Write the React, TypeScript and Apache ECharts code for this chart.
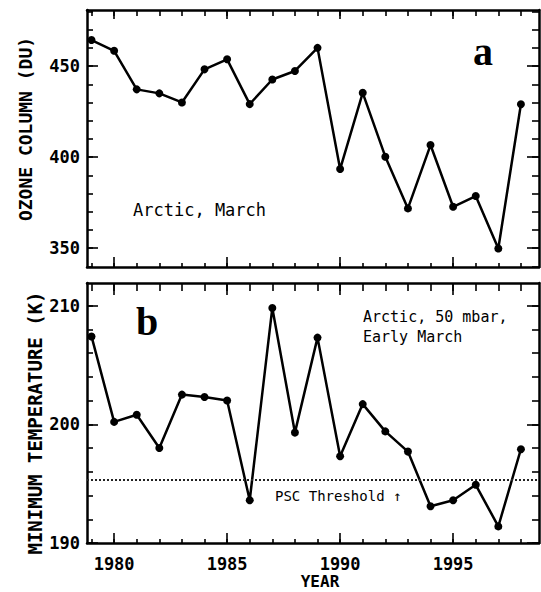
import React, { useEffect, useRef } from "react";
import * as echarts from "echarts";

const years = [1979, 1980, 1981, 1982, 1983, 1984, 1985, 1986, 1987, 1988, 1989, 1990, 1991, 1992, 1993, 1994, 1995, 1996, 1997, 1998];
const ozone = [464.3, 458.4, 437.2, 435.0, 430.0, 448.2, 453.7, 429.1, 442.6, 447.3, 460.0, 393.4, 435.3, 400.2, 371.8, 406.6, 372.7, 378.6, 349.8, 429.0];
const temperature = [207.4, 200.2, 200.8, 198.0, 202.5, 202.3, 202.0, 193.6, 209.8, 199.3, 207.3, 197.3, 201.7, 199.4, 197.7, 193.1, 193.6, 194.9, 191.4, 197.9];
const pscThreshold = 195.3;

const yearTicks = [1980, 1985, 1990, 1995];
const yearMinorTicks = [1979, 1980, 1981, 1982, 1983, 1984, 1985, 1986, 1987, 1988, 1989, 1990, 1991, 1992, 1993, 1994, 1995, 1996, 1997, 1998];
const ozoneTicks = [350, 400, 450];
const ozoneMinorTicks = [340, 350, 360, 370, 380, 390, 400, 410, 420, 430, 440, 450, 460, 470, 480];
const tempTicks = [190, 200, 210];
const tempMinorTicks = [190, 192, 194, 196, 198, 200, 202, 204, 206, 208, 210, 212];

const MONO = "'DejaVu Sans Mono', monospace";

function makeX(grid: number, position: string, ticks: number[], len: number, labels: boolean, line: boolean) {
  return {
    type: "value",
    gridIndex: grid,
    position,
    min: 1978.8,
    max: 1998.8,
    axisLine: { show: line, onZero: false, lineStyle: { color: "#000", width: 2.5 } },
    axisTick: { show: true, inside: true, length: len, customValues: ticks, lineStyle: { color: "#000", width: 1.6 } },
    axisLabel: labels
      ? {
          show: true,
          customValues: ticks,
          margin: 12,
          color: "#000",
          fontFamily: MONO,
          fontSize: 17,
          fontWeight: "bold",
          formatter: (v: number) => String(v),
        }
      : { show: false },
    splitLine: { show: false },
  };
}

function makeY(grid: number, position: string, min: number, max: number, ticks: number[], len: number, labels: boolean, line: boolean) {
  return {
    type: "value",
    gridIndex: grid,
    position,
    min,
    max,
    axisLine: { show: line, onZero: false, lineStyle: { color: "#000", width: 2.5 } },
    axisTick: { show: true, inside: true, length: len, customValues: ticks, lineStyle: { color: "#000", width: 1.6 } },
    axisLabel: labels
      ? {
          show: true,
          customValues: ticks,
          margin: 7,
          color: "#000",
          fontFamily: MONO,
          fontSize: 17,
          fontWeight: "bold",
          formatter: (v: number) => String(v),
        }
      : { show: false },
    splitLine: { show: false },
  };
}

export default function App() {
  const ref = useRef<HTMLDivElement>(null);
  useEffect(() => {
    if (!ref.current) return;
    const chart = echarts.init(ref.current, null, { renderer: "svg" });
    const xAxis = [
      makeX(0, "bottom", yearTicks, 10, false, true),
      makeX(0, "bottom", yearMinorTicks, 4, false, false),
      makeX(0, "top", yearTicks, 9, false, true),
      makeX(0, "top", yearMinorTicks, 6, false, false),
      makeX(1, "bottom", yearTicks, 10, true, true),
      makeX(1, "bottom", yearMinorTicks, 4, false, false),
      makeX(1, "top", yearTicks, 12, false, true),
      makeX(1, "top", yearMinorTicks, 8, false, false),
    ];
    const yAxis = [
      makeY(0, "left", 339.6, 480.8, ozoneTicks, 11, true, true),
      makeY(0, "left", 339.6, 480.8, ozoneMinorTicks, 6, false, false),
      makeY(0, "right", 339.6, 480.8, ozoneTicks, 12, false, true),
      makeY(0, "right", 339.6, 480.8, ozoneMinorTicks, 7, false, false),
      makeY(1, "left", 190, 211.9, tempTicks, 11, true, true),
      makeY(1, "left", 190, 211.9, tempMinorTicks, 6, false, false),
      makeY(1, "right", 190, 211.9, tempTicks, 12, false, true),
      makeY(1, "right", 190, 211.9, tempMinorTicks, 7, false, false),
    ];
    chart.setOption({
      animation: false,
      backgroundColor: "#fff",
      grid: [
        { left: 87, top: 10, right: 2, height: 257 },
        { left: 87, top: 283, right: 2, height: 260 },
      ],
      xAxis,
      yAxis,
      series: [
        {
          type: "line",
          name: "Ozone column",
          xAxisIndex: 0,
          yAxisIndex: 0,
          data: years.map((y, i) => [y, ozone[i]]),
          symbol: "circle",
          symbolSize: 8,
          itemStyle: { color: "#000" },
          lineStyle: { color: "#000", width: 2.5 },
        },
        {
          type: "line",
          name: "Minimum temperature",
          xAxisIndex: 4,
          yAxisIndex: 4,
          data: years.map((y, i) => [y, temperature[i]]),
          symbol: "circle",
          symbolSize: 8,
          itemStyle: { color: "#000" },
          lineStyle: { color: "#000", width: 2.5 },
          markLine: {
            silent: true,
            symbol: ["none", "none"],
            label: { show: false },
            lineStyle: { color: "#222", type: "dotted", width: 2 },
            data: [{ yAxis: pscThreshold }],
          },
        },
      ],
      graphic: [
        {
          type: "text",
          x: 25,
          y: 129,
          rotation: Math.PI / 2,
          style: { text: "OZONE COLUMN (DU)", fill: "#000", font: `bold 18px ${MONO}`, align: "center", verticalAlign: "middle" },
        },
        {
          type: "text",
          x: 35,
          y: 423,
          rotation: Math.PI / 2,
          style: { text: "MINIMUM TEMPERATURE (K)", fill: "#000", font: `bold 19px ${MONO}`, align: "center", verticalAlign: "middle" },
        },
        {
          type: "text",
          x: 320,
          y: 581,
          style: { text: "YEAR", fill: "#000", font: `bold 16px ${MONO}`, align: "center", verticalAlign: "middle" },
        },
        {
          type: "text",
          x: 483,
          y: 51,
          style: { text: "a", fill: "#000", font: "bold 40px 'Liberation Serif', serif", align: "center", verticalAlign: "middle" },
        },
        {
          type: "text",
          x: 147,
          y: 321,
          style: { text: "b", fill: "#000", font: "bold 40px 'Liberation Serif', serif", align: "center", verticalAlign: "middle" },
        },
        {
          type: "text",
          x: 133,
          y: 210,
          style: { text: "Arctic, March", fill: "#000", font: `17px ${MONO}`, align: "left", verticalAlign: "middle" },
        },
        {
          type: "text",
          x: 363,
          y: 317,
          style: { text: "Arctic, 50 mbar,", fill: "#000", font: `15px ${MONO}`, align: "left", verticalAlign: "middle" },
        },
        {
          type: "text",
          x: 363,
          y: 337,
          style: { text: "Early March", fill: "#000", font: `15px ${MONO}`, align: "left", verticalAlign: "middle" },
        },
        {
          type: "text",
          x: 275,
          y: 496,
          style: { text: "PSC Threshold ↑", fill: "#000", font: `14px ${MONO}`, align: "left", verticalAlign: "middle" },
        },
      ],
    });
    return () => chart.dispose();
  }, []);
  return <div ref={ref} style={{ width: 541, height: 592, position: "absolute", left: 0, top: 0 }} />;
}
